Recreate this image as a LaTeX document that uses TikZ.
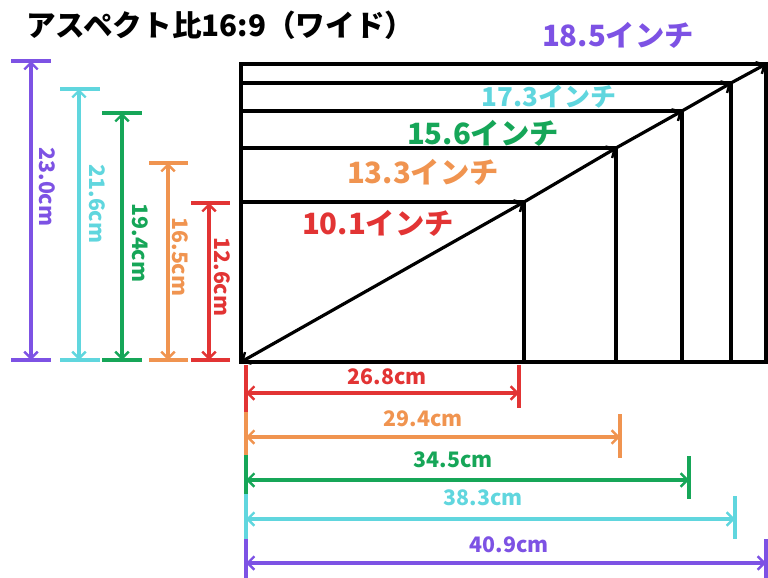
\documentclass[tikz,border=0pt]{standalone}
\usepackage{fontspec}
\setmainfont{Noto Sans CJK JP}[BoldFont={Noto Sans CJK JP Black}]
\usetikzlibrary{arrows.meta}
\definecolor{cpur}{RGB}{125,82,228}
\definecolor{ccya}{RGB}{96,214,222}
\definecolor{cgrn}{RGB}{22,166,88}
\definecolor{corg}{RGB}{240,148,80}
\definecolor{cred}{RGB}{226,52,52}
\tikzset{
  frame/.style={line width=2.8pt, black},
  diag/.style={line width=2.4pt, black, -{Straight Barb[length=5pt,width=10pt,line width=1.8pt]}},
  dimline/.style={line width=2.4pt, {Straight Barb[length=5pt,width=10pt,line width=1.8pt]}-{Straight Barb[length=5pt,width=10pt,line width=1.8pt]}},
  tickline/.style={line width=2.4pt},
  cmlabel/.style={font=\bfseries\fontsize{16}{16}\selectfont, inner sep=0pt},
  inchlabel/.style={font=\bfseries\fontsize{22}{22}\selectfont, inner sep=0pt},
}
\begin{document}
\begin{tikzpicture}[x=0.75pt,y=-0.75pt]
\useasboundingbox (0,0) rectangle (768,578);
% title
\node[anchor=west, inner sep=0pt, font=\bfseries\fontsize{22.2}{23}\selectfont] (title) at (26,25) {アスペクト比16:9（ワイド）};
% corners
\coordinate (O) at (241,362);
\coordinate (c1) at (524,202);
\coordinate (c2) at (616,148);
\coordinate (c3) at (682,111);
\coordinate (c4) at (731,83);
\coordinate (c5) at (766,64);
% rectangles
\draw[frame] (O) rectangle (c5);
\draw[frame] (O) rectangle (c4);
\draw[frame] (O) rectangle (c3);
\draw[frame] (O) rectangle (c2);
\draw[frame] (O) rectangle (c1);
% diagonal
\draw[diag, {Straight Barb[length=5pt,width=10pt,line width=1.8pt]}-{Straight Barb[length=5pt,width=10pt,line width=1.8pt]}] (O) -- (c1);
\draw[diag] (c1) -- (c2);
\draw[diag] (c2) -- (c3);
\draw[diag] (c3) -- (c4);
\draw[diag] (c4) -- (c5);
% inch labels
\node[inchlabel, text=cpur] (i185) at (618,35) {18.5インチ};
\node[inchlabel, text=ccya, font=\bfseries\fontsize{19.5}{20}\selectfont] (i173) at (549,97) {17.3インチ};
\node[inchlabel, text=cgrn] (i156) at (483,133) {15.6インチ};
\node[inchlabel, text=corg] (i133) at (423,172) {13.3インチ};
\node[inchlabel, text=cred] (i101) at (378,223) {10.1インチ};
% vertical dimensions
\foreach \x/\t/\l/\r/\c/\lab/\lx/\ly/\nm in {
  31/61/11/51/cpur/23.0cm/47/187/vp,
  79/89/60/100/ccya/21.6cm/97/204/vc,
  122/113/102/142/cgrn/19.4cm/140/243/vg,
  168/163/149/188/corg/16.5cm/180/257/vo,
  209/203/191/230/cred/12.6cm/222/277/vr}{
  \coordinate (\nm top) at (\x,\t);
  \coordinate (\nm bot) at (\x,360);
  \coordinate (\nm tl) at (\l,\t);
  \coordinate (\nm tr) at (\r,\t);
  \coordinate (\nm bl) at (\l,360);
  \coordinate (\nm br) at (\r,360);
  \draw[tickline, \c] (\nm tl) -- (\nm tr);
  \draw[tickline, \c] (\nm bl) -- (\nm br);
  \draw[dimline, \c] (\nm top) -- (\nm bot);
  \node[cmlabel, text=\c, rotate=-90] (\nm lab) at (\lx,\ly) {\lab};
}
% horizontal dimensions
\foreach \y/\R/\ta/\tb/\la/\lb/\c/\lab/\lx/\ly/\nm in {
  393/519/365/408/365/412/cred/26.8cm/387/377/hr,
  437/620/414/458/412/455/corg/29.4cm/423/419/ho,
  480/689/456/499/455/494/cgrn/34.5cm/453/460/hg,
  519/735/496/539/494/539/ccya/38.3cm/483/498/hc,
  563/766/539/578/539/578/cpur/40.9cm/509/545/hp}{
  \coordinate (\nm L) at (246,\y);
  \coordinate (\nm R) at (\R,\y);
  \coordinate (\nm ta) at (\R,\ta);
  \coordinate (\nm tb) at (\R,\tb);
  \coordinate (\nm la) at (246,\la);
  \coordinate (\nm lb) at (246,\lb);
  \draw[tickline, \c] (\nm ta) -- (\nm tb);
  \draw[tickline, \c] (\nm la) -- (\nm lb);
  \draw[dimline, \c] (\nm L) -- (\nm R);
  \node[cmlabel, text=\c] (\nm lab) at (\lx,\ly) {\lab};
}
\end{tikzpicture}
\end{document}
